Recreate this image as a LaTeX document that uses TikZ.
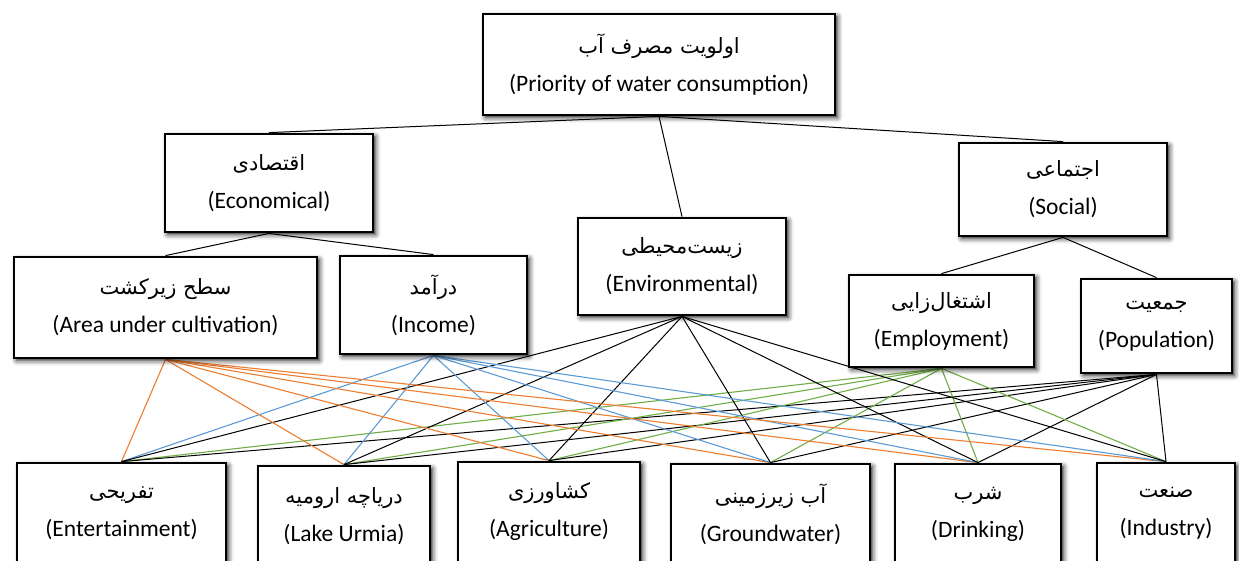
\documentclass[tikz,border=0pt]{standalone}
\usepackage{fontspec}
\setmainfont{Carlito}
\newfontfamily\farsi[Script=Arabic]{DejaVu Sans}
\TeXXeTstate=1
\usetikzlibrary{shadows.blur,backgrounds}
\definecolor{lnorange}{RGB}{237,125,49}
\definecolor{lnblue}{RGB}{91,155,213}
\definecolor{lngreen}{RGB}{112,173,71}
% persian line over english line
\newcommand{\duo}[2]{{\farsi\fontsize{21}{38}\selectfont\beginR #1\endR}\\ #2}

\begin{document}
\begin{tikzpicture}[
  x=1pt, y=-1pt,
  box/.style={draw, line width=2.8pt, fill=white, align=center, inner sep=0pt,
    font=\fontsize{23.5}{38}\selectfont,
    blur shadow={shadow xshift=2.5pt, shadow yshift=-2.5pt, shadow blur radius=5pt, shadow opacity=90}},
  link/.style={line width=1pt, black},
  arealink/.style={line width=1.1pt, lnorange},
  incomelink/.style={line width=1.1pt, lnblue},
  employlink/.style={line width=1.1pt, lngreen}
]
\useasboundingbox (0,0) rectangle (1239,560);

% level 0
\node[box, minimum width=352pt, minimum height=101pt] (top) at (659,64.5)
  {\duo{اولویت مصرف آب}{(Priority of water consumption)}};

% level 1
\node[box, minimum width=208pt, minimum height=98pt] (econ) at (269,183)
  {\duo{اقتصادی}{(Economical)}};
\node[box, minimum width=208pt, minimum height=97pt] (env) at (682,266.5)
  {\duo{زیست‌محیطی}{(Environmental)}};
\node[box, minimum width=208pt, minimum height=93pt] (social) at (1063,189.5)
  {\duo{اجتماعی}{(Social)}};

% level 2
\node[box, minimum width=303pt, minimum height=101pt] (area) at (165.5,307.5)
  {\duo{سطح زیرکشت}{(Area under cultivation)}};
\node[box, minimum width=187pt, minimum height=98pt] (income) at (433.5,305)
  {\duo{درآمد}{(Income)}};
\node[box, minimum width=185pt, minimum height=92pt] (employ) at (941.5,321)
  {\duo{اشتغال‌زایی}{(Employment)}};
\node[box, minimum width=151pt, minimum height=94pt] (pop) at (1156.5,326)
  {\duo{جمعیت}{(Population)}};

% level 3
\node[box, minimum width=209pt, minimum height=100pt] (ent) at (121.5,513)
  {\duo{تفریحی}{(Entertainment)}};
\node[box, minimum width=172pt, minimum height=100pt] (lake) at (344,516)
  {\duo{دریاچه ارومیه}{(Lake Urmia)}};
\node[box, minimum width=182pt, minimum height=100pt] (agri) at (549,512)
  {\duo{کشاورزی}{(Agriculture)}};
\node[box, minimum width=199pt, minimum height=100pt] (ground) at (770.5,514)
  {\duo{آب زیرزمینی}{(Groundwater)}};
\node[box, minimum width=166pt, minimum height=100pt] (drink) at (978,514)
  {\duo{شرب}{(Drinking)}};
\node[box, minimum width=138pt, minimum height=100pt] (ind) at (1166,513)
  {\duo{صنعت}{(Industry)}};

\begin{scope}[on background layer]
\draw[link] (top.south) -- (econ.north);
\draw[link] (top.south) -- (env.north);
\draw[link] (top.south) -- (social.north);
\draw[link] (econ.south) -- (area.north);
\draw[link] (econ.south) -- (income.north);
\draw[link] (social.south) -- (employ.north);
\draw[link] (social.south) -- (pop.north);
\foreach \b in {ent,lake,agri,ground,drink,ind} {
  \draw[arealink] (area.south) -- (\b.north);
  \draw[incomelink] (income.south) -- (\b.north);
  \draw[employlink] (employ.south) -- (\b.north);
  \draw[link] (env.south) -- (\b.north);
  \draw[link] (pop.south) -- (\b.north);
}
\end{scope}
\end{tikzpicture}
\end{document}
